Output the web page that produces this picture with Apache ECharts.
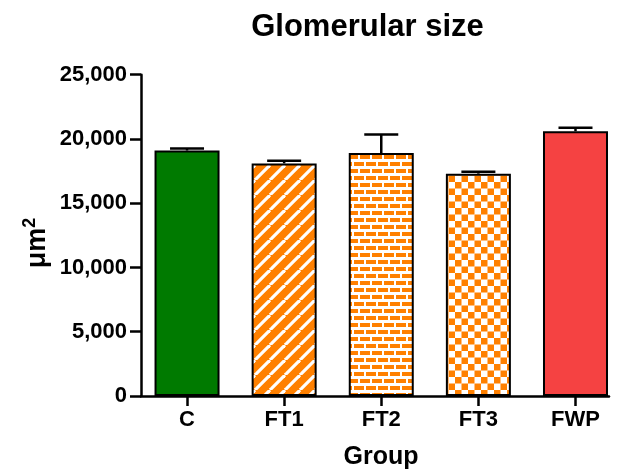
<!DOCTYPE html>
<html>
<head>
<meta charset="utf-8">
<script src="https://cdn.jsdelivr.net/npm/echarts@6/dist/echarts.min.js"></script>
<style>
  html, body { margin: 0; padding: 0; background: #fff; }
  #chart { width: 617px; height: 472px; }
</style>
</head>
<body>
<div id="chart"></div>
<script>
// Glomerular area per group (mean and SEM, µm²)
const groups = ['C', 'FT1', 'FT2', 'FT3', 'FWP'];
const meanArea = [19100, 18100, 18900, 17300, 20600];
const semArea = [150, 200, 1450, 150, 280];
const yTicks = [0, 5000, 10000, 15000, 20000, 25000];

const ORANGE = '#FF8000';
const FONT = 'Liberation Sans, Arial, Helvetica, sans-serif';

function makeTile(w, h, draw) {
  const c = document.createElement('canvas');
  c.width = w; c.height = h;
  const ctx = c.getContext('2d');
  draw(ctx, w, h);
  return { image: c, repetition: 'repeat' };
}

// diagonal white stripes on orange
const stripeFill = makeTile(15, 15, (ctx, w, h) => {
  ctx.fillStyle = ORANGE; ctx.fillRect(0, 0, w, h);
  ctx.strokeStyle = '#fff'; ctx.lineWidth = 3.2;
  for (const off of [-w, 0, w]) {
    ctx.beginPath(); ctx.moveTo(off, h); ctx.lineTo(off + w, 0); ctx.stroke();
  }
});

// brick wall: orange bricks, white mortar
const brickFill = makeTile(12, 14, (ctx, w, h) => {
  ctx.fillStyle = '#fff'; ctx.fillRect(0, 0, w, h);
  ctx.fillStyle = ORANGE;
  ctx.fillRect(0, 1, 10, 4);
  ctx.fillRect(6, 8, 10, 4);
  ctx.fillRect(-6, 8, 10, 4);
});

// orange/white checkerboard
const checkFill = makeTile(13, 13, (ctx, w, h) => {
  ctx.fillStyle = '#fff'; ctx.fillRect(0, 0, w, h);
  ctx.fillStyle = ORANGE;
  ctx.fillRect(0, 0, 6.5, 6.5);
  ctx.fillRect(6.5, 6.5, 6.5, 6.5);
});

const fills = ['#007A00', stripeFill, brickFill, checkFill, '#F54242'];

const chart = echarts.init(document.getElementById('chart'), null, { renderer: 'canvas' });

chart.setOption({
  backgroundColor: '#fff',
  animation: false,
  grid: {
    left: 141, right: 8, top: 74.7, bottom: 76,
    containLabel: false, outerBoundsMode: 'none'
  },
  graphic: [
    {
      type: 'text', x: 367.5, y: 27,
      style: { text: 'Glomerular size', font: 'bold 31px ' + FONT, fill: '#000',
               textAlign: 'center', textVerticalAlign: 'middle' }
    },
    {
      type: 'text', x: 381, y: 457,
      style: { text: 'Group', font: 'bold 25px ' + FONT, fill: '#000',
               textAlign: 'center', textVerticalAlign: 'middle' }
    },
    {
      type: 'text', x: 36, y: 243, rotation: Math.PI / 2,
      style: {
        text: '{u|μm}{s|2}',
        textAlign: 'center', textVerticalAlign: 'middle',
        rich: {
          u: { font: 'bold 27px ' + FONT, fill: '#000', lineHeight: 30, verticalAlign: 'bottom' },
          s: { font: 'bold 18px ' + FONT, fill: '#000', lineHeight: 30, verticalAlign: 'top' }
        }
      }
    }
  ],
  xAxis: {
    type: 'value',
    min: -0.474,
    max: 4.345,
    splitLine: { show: false },
    axisLine: { show: true, onZero: true, lineStyle: { color: '#000', width: 2.5 } },
    axisTick: {
      show: true, customValues: [0, 1, 2, 3, 4], length: 10,
      lineStyle: { color: '#000', width: 2.5 }
    },
    axisLabel: {
      customValues: [0, 1, 2, 3, 4],
      formatter: v => groups[Math.round(v)],
      margin: 13,
      color: '#000', fontWeight: 'bold', fontSize: 22, fontFamily: FONT
    }
  },
  yAxis: {
    type: 'value',
    min: 0, max: 25000, interval: 5000,
    splitLine: { show: false },
    axisLine: { show: true, onZero: false, lineStyle: { color: '#000', width: 2.5 } },
    axisTick: { show: true, length: 11, lineStyle: { color: '#000', width: 2.5 } },
    axisLabel: {
      formatter: v => yTicks.includes(v) ? v.toLocaleString('en-US') : '',
      margin: 14,
      color: '#000', fontWeight: 'bold', fontSize: 22, fontFamily: FONT
    }
  },
  series: [
    {
      type: 'bar',
      barWidth: 65,
      z: 2,
      data: meanArea.map((v, i) => ({
        value: [i, v],
        itemStyle: { color: fills[i], borderColor: '#000', borderWidth: 2 }
      }))
    },
    {
      // upper SEM whisker with cap
      type: 'custom',
      z: 3,
      data: meanArea.map((v, i) => [i, v, v + semArea[i]]),
      renderItem: (params, api) => {
        const base = api.coord([api.value(0), api.value(1)]);
        const top = api.coord([api.value(0), api.value(2)]);
        const half = 17;
        const style = { stroke: '#000', lineWidth: 2.5 };
        return {
          type: 'group',
          children: [
            { type: 'line', shape: { x1: base[0], y1: base[1], x2: top[0], y2: top[1] }, style },
            { type: 'line', shape: { x1: top[0] - half, y1: top[1], x2: top[0] + half, y2: top[1] }, style }
          ]
        };
      }
    }
  ]
});
</script>
</body>
</html>
